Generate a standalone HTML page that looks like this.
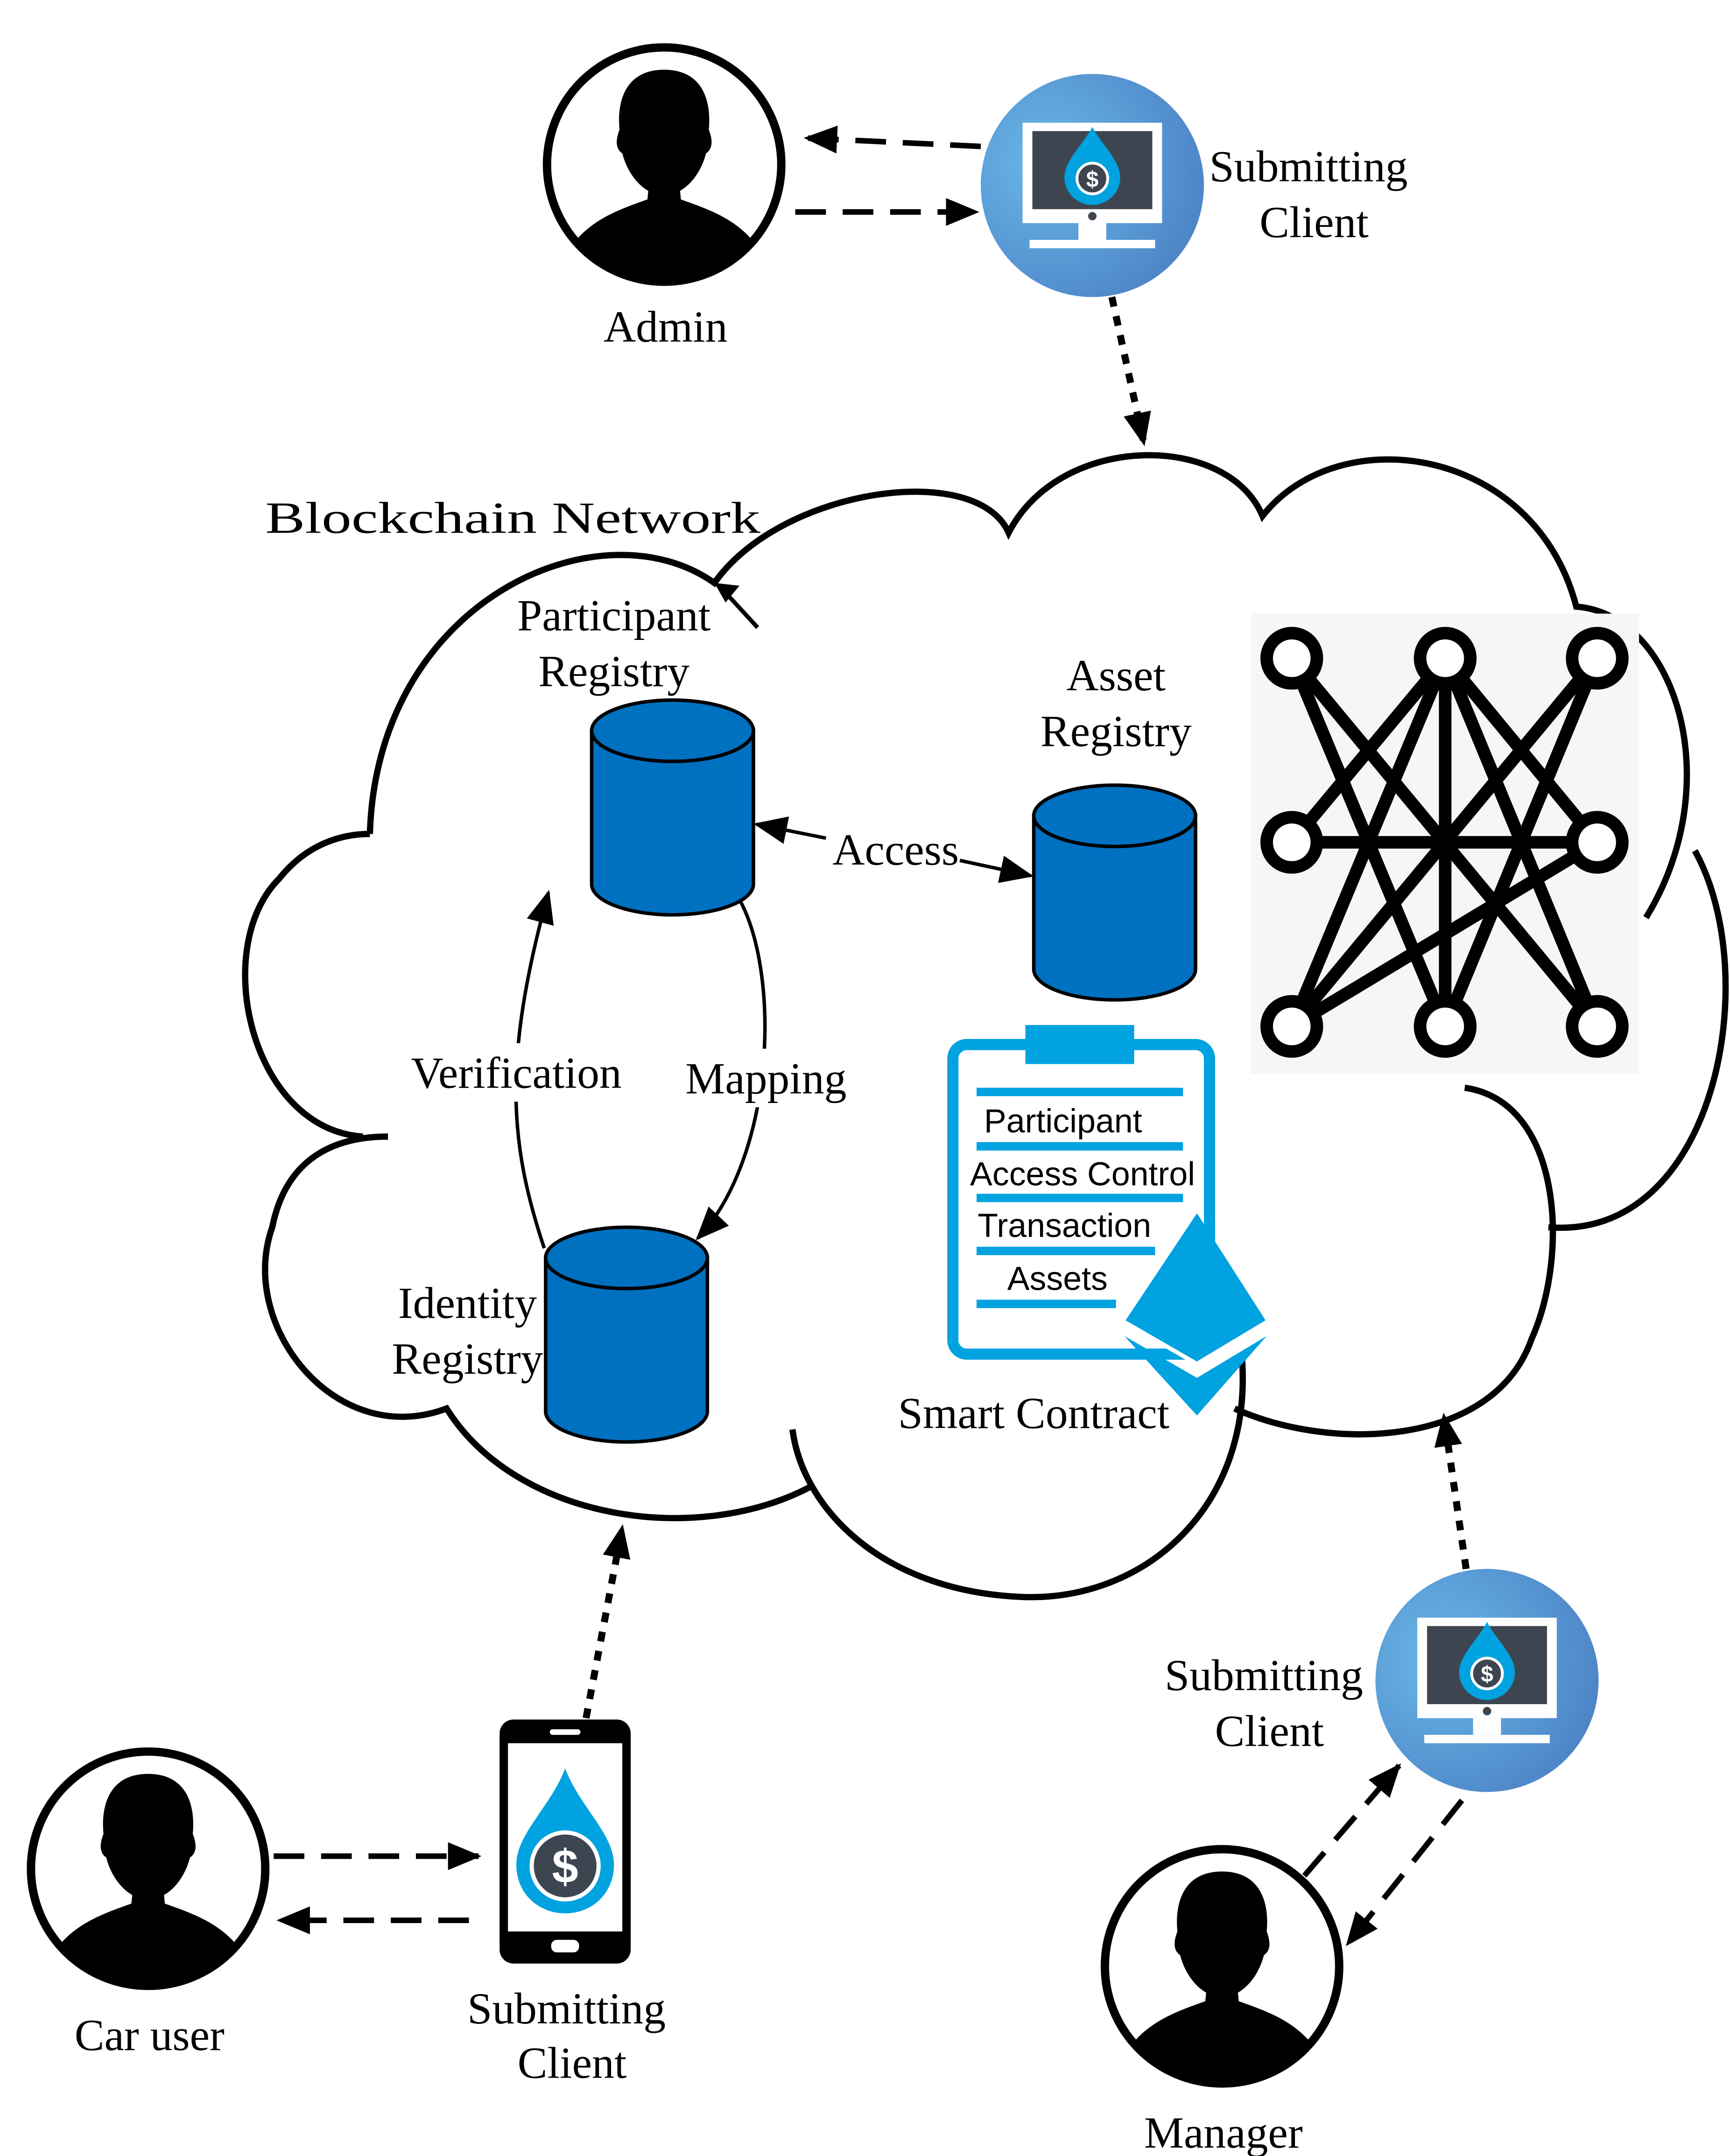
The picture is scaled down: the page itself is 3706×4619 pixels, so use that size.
<!DOCTYPE html>
<html><head><meta charset="utf-8">
<style>
html,body{margin:0;padding:0;background:#fff;}
svg{display:block;}
.t{font-family:"Liberation Serif",serif;font-size:32px;fill:#000;}
.s{font-family:"Liberation Sans","DejaVu Sans",sans-serif;font-size:24px;fill:#000;}
</style></head><body>
<svg width="3706" height="4619" viewBox="0 0 1240 1546" xmlns="http://www.w3.org/2000/svg">
<defs>
<marker id="a" viewBox="0 0 12 10" refX="11" refY="5" markerWidth="24" markerHeight="20" orient="auto" markerUnits="userSpaceOnUse"><path d="M0 0 L12 5 L0 10 Z" fill="#000"/></marker>
<radialGradient id="g" cx="0.3" cy="0.4" r="0.8"><stop offset="0" stop-color="#6ab8e8"/><stop offset="1" stop-color="#4a7fc4"/></radialGradient>
<symbol id="person" viewBox="-88 -88 176 176">
<clipPath id="cp"><circle cx="0" cy="0" r="84"/></clipPath>
<g clip-path="url(#cp)">
<path d="M-10 5 L-12 25 C-40 35 -70 45 -80 90 L80 90 C70 45 40 35 12 25 L10 5 Z" fill="#000"/>
<path d="M0 -68 C-28 -68 -34 -45 -32 -25 C-34 -20 -36 -12 -30 -8 C-26 8 -14 22 0 22 C14 22 26 8 30 -8 C36 -12 34 -20 32 -25 C34 -45 28 -68 0 -68 Z" fill="#000"/>
</g>
<circle cx="0" cy="0" r="84" fill="none" stroke="#000" stroke-width="6"/>
</symbol>
<symbol id="client" viewBox="-82 -82 164 164">
<circle cx="0" cy="0" r="80" fill="url(#g)"/>
<rect x="-50" y="-45" width="100" height="72" fill="#fff"/>
<rect x="-43" y="-39" width="86" height="56" fill="#3d4650"/>
<circle cx="0" cy="22" r="3" fill="#3d4650"/>
<rect x="-10" y="27" width="20" height="12" fill="#fff"/>
<rect x="-45" y="39" width="90" height="6" fill="#fff"/>
<path d="M0 -42 C6 -30 20 -18 20 -6 C20 6 10 14 0 14 C-10 14 -20 6 -20 -6 C-20 -18 -6 -30 0 -42 Z" fill="#00a2e0"/>
<circle cx="0" cy="-5" r="11" fill="#3d4650" stroke="#fff" stroke-width="2"/>
<text x="0" y="1" text-anchor="middle" font-family="Liberation Sans,sans-serif" font-size="16" font-weight="bold" fill="#fff">$</text>
</symbol>
<symbol id="cyl" viewBox="0 0 120 160">
<path d="M2 24 L2 134 A58 22 0 0 0 118 134 L118 24 Z" fill="#0070c0" stroke="#000" stroke-width="2.5"/>
<ellipse cx="60" cy="24" rx="58" ry="22" fill="#0070c0" stroke="#000" stroke-width="2.5"/>
</symbol>
</defs>

<use href="#person" x="388" y="30" width="176" height="176"/>
<use href="#client" x="701" y="51" width="164" height="164"/>
<text class="t" x="938" y="130" text-anchor="middle">Submitting</text>
<text class="t" x="942" y="170" text-anchor="middle">Client</text>
<text class="t" x="477" y="245" text-anchor="middle">Admin</text>
<line x1="703" y1="105" x2="578" y2="99" stroke="#000" stroke-width="4" stroke-dasharray="22,12" marker-end="url(#a)"/>
<line x1="570" y1="152" x2="700" y2="152" stroke="#000" stroke-width="4" stroke-dasharray="22,12" marker-end="url(#a)"/>
<line x1="797" y1="213" x2="820" y2="318" stroke="#000" stroke-width="5" stroke-dasharray="7,7" marker-end="url(#a)"/>

<g fill="none" stroke="#000" stroke-width="4.5">
<path d="M265 598 C270 430 430 360 512 418 C560 350 700 330 723 382 C760 310 880 310 905 370 C960 300 1100 320 1130 435 C1200 440 1240 560 1180 658"/>
<path d="M1215 610 C1265 700 1230 890 1110 880"/>
<path d="M1050 780 C1120 790 1125 900 1098 960 C1070 1040 950 1040 885 1010"/>
<path d="M890 970 C900 1080 820 1150 730 1145 C630 1140 575 1080 568 1025"/>
<path d="M583 1065 C500 1110 370 1090 320 1010 C240 1040 170 950 195 880 C205 830 240 815 278 815"/>
<path d="M260 815 C180 810 150 680 200 630 C220 605 245 598 265 598"/>
</g>
<line x1="520" y1="425" x2="543" y2="450" stroke="#000" stroke-width="3"/>
<path d="M512 418 L530 420 L520 432 Z" fill="#000"/>
<text class="t" x="190" y="382" font-size="42" textLength="355" lengthAdjust="spacingAndGlyphs">Blockchain Network</text>

<text class="t" x="440" y="452" text-anchor="middle">Participant</text>
<text class="t" x="440" y="492" text-anchor="middle">Registry</text>
<use href="#cyl" x="422" y="500" width="120" height="160"/>
<text class="t" x="800" y="495" text-anchor="middle">Asset</text>
<text class="t" x="800" y="535" text-anchor="middle">Registry</text>
<use href="#cyl" x="739" y="561" width="120" height="160"/>
<use href="#cyl" x="389" y="878" width="120" height="160"/>
<text class="t" x="335" y="945" text-anchor="middle">Identity</text>
<text class="t" x="335" y="985" text-anchor="middle">Registry</text>

<line x1="592" y1="601" x2="542" y2="591" stroke="#000" stroke-width="2.5" marker-end="url(#a)"/>
<line x1="688" y1="617" x2="739" y2="628" stroke="#000" stroke-width="2.5" marker-end="url(#a)"/>
<text class="t" x="642" y="620" text-anchor="middle">Access</text>
<path d="M390 895 C365 820 360 760 393 640" fill="none" stroke="#000" stroke-width="2.5" marker-end="url(#a)"/>
<path d="M530 645 C560 700 555 830 500 888" fill="none" stroke="#000" stroke-width="2.5" marker-end="url(#a)"/>
<rect x="285" y="748" width="170" height="42" fill="#fff"/>
<text class="t" x="370" y="780" text-anchor="middle">Verification</text>
<rect x="488" y="752" width="122" height="42" fill="#fff"/>
<text class="t" x="549" y="784" text-anchor="middle">Mapping</text>

<rect x="897" y="440" width="278" height="330" fill="#f6f6f6"/>
<g stroke="#000" stroke-width="9" fill="none">
<line x1="926" y1="472" x2="1036" y2="736"/><line x1="926" y1="472" x2="1145" y2="736"/>
<line x1="1036" y1="472" x2="926" y2="736"/><line x1="1036" y1="472" x2="1036" y2="736"/>
<line x1="1036" y1="472" x2="1145" y2="604"/><line x1="1036" y1="472" x2="1145" y2="736"/>
<line x1="1036" y1="472" x2="926" y2="604"/>
<line x1="1145" y1="472" x2="926" y2="736"/><line x1="1145" y1="472" x2="1036" y2="736"/>
<line x1="926" y1="604" x2="1145" y2="604"/>
<line x1="926" y1="736" x2="1145" y2="604"/>
</g>
<g stroke="#000" stroke-width="9" fill="#fff">
<circle cx="926" cy="472" r="18"/><circle cx="1036" cy="472" r="18"/><circle cx="1145" cy="472" r="18"/>
<circle cx="926" cy="604" r="18"/><circle cx="1145" cy="604" r="18"/>
<circle cx="926" cy="736" r="18"/><circle cx="1036" cy="736" r="18"/><circle cx="1145" cy="736" r="18"/>
</g>

<rect x="683" y="749" width="184" height="222" rx="10" fill="#fff" stroke="#00a2e0" stroke-width="8"/>
<rect x="735" y="735" width="78" height="28" fill="#00a2e0"/>
<g stroke="#00a2e0" stroke-width="6">
<line x1="700" y1="783" x2="848" y2="783"/><line x1="700" y1="822" x2="848" y2="822"/>
<line x1="700" y1="859" x2="848" y2="859"/><line x1="700" y1="897" x2="828" y2="897"/>
<line x1="700" y1="935" x2="800" y2="935"/>
</g>
<text class="s" x="762" y="812" text-anchor="middle">Participant</text>
<text class="s" x="776" y="850" text-anchor="middle">Access Control</text>
<text class="s" x="763" y="887" text-anchor="middle">Transaction</text>
<text class="s" x="758" y="925" text-anchor="middle">Assets</text>
<path d="M858 870 L908 948 L858 978 L806 948 Z" fill="#00a2e0"/>
<path d="M806 958 L858 988 L908 958 L858 1015 Z" fill="#00a2e0"/>
<path d="M806 948 L858 978 L908 948" fill="none" stroke="#fff" stroke-width="3"/>
<text class="t" x="741" y="1024" text-anchor="middle">Smart Contract</text>

<line x1="420" y1="1232" x2="446" y2="1095" stroke="#000" stroke-width="5" stroke-dasharray="7,7" marker-end="url(#a)"/>
<rect x="358" y="1233" width="94" height="175" rx="10" fill="#000"/>
<rect x="364" y="1250" width="82" height="135" fill="#fff"/>
<rect x="394" y="1240" width="22" height="4" rx="2" fill="#fff"/>
<rect x="395" y="1391" width="20" height="9" rx="4" fill="#fff"/>
<path d="M405 1268 C415 1295 440 1315 440 1337 C440 1358 424 1372 405 1372 C386 1372 370 1358 370 1337 C370 1315 395 1295 405 1268 Z" fill="#00a2e0"/>
<circle cx="405" cy="1338" r="24" fill="#3d4650" stroke="#fff" stroke-width="3"/>
<text x="405" y="1350" text-anchor="middle" font-family="Liberation Sans,sans-serif" font-size="34" font-weight="bold" fill="#fff">$</text>
<use href="#person" x="18" y="1252" width="176" height="176"/>
<line x1="196" y1="1331" x2="343" y2="1331" stroke="#000" stroke-width="4" stroke-dasharray="22,12" marker-end="url(#a)"/>
<line x1="336" y1="1377" x2="200" y2="1377" stroke="#000" stroke-width="4" stroke-dasharray="22,12" marker-end="url(#a)"/>
<text class="t" x="107" y="1470" text-anchor="middle">Car user</text>
<text class="t" x="406" y="1451" text-anchor="middle">Submitting</text>
<text class="t" x="410" y="1490" text-anchor="middle">Client</text>

<use href="#client" x="984" y="1123" width="164" height="164"/>
<line x1="1051" y1="1125" x2="1035" y2="1015" stroke="#000" stroke-width="5" stroke-dasharray="7,7" marker-end="url(#a)"/>
<text class="t" x="906" y="1212" text-anchor="middle">Submitting</text>
<text class="t" x="910" y="1252" text-anchor="middle">Client</text>
<use href="#person" x="788" y="1322" width="176" height="176"/>
<line x1="935" y1="1345" x2="1003" y2="1266" stroke="#000" stroke-width="4" stroke-dasharray="22,12" marker-end="url(#a)"/>
<line x1="1048" y1="1291" x2="966" y2="1394" stroke="#000" stroke-width="4" stroke-dasharray="22,12" marker-end="url(#a)"/>
<text class="t" x="877" y="1540" text-anchor="middle">Manager</text>
</svg>
</body></html>
